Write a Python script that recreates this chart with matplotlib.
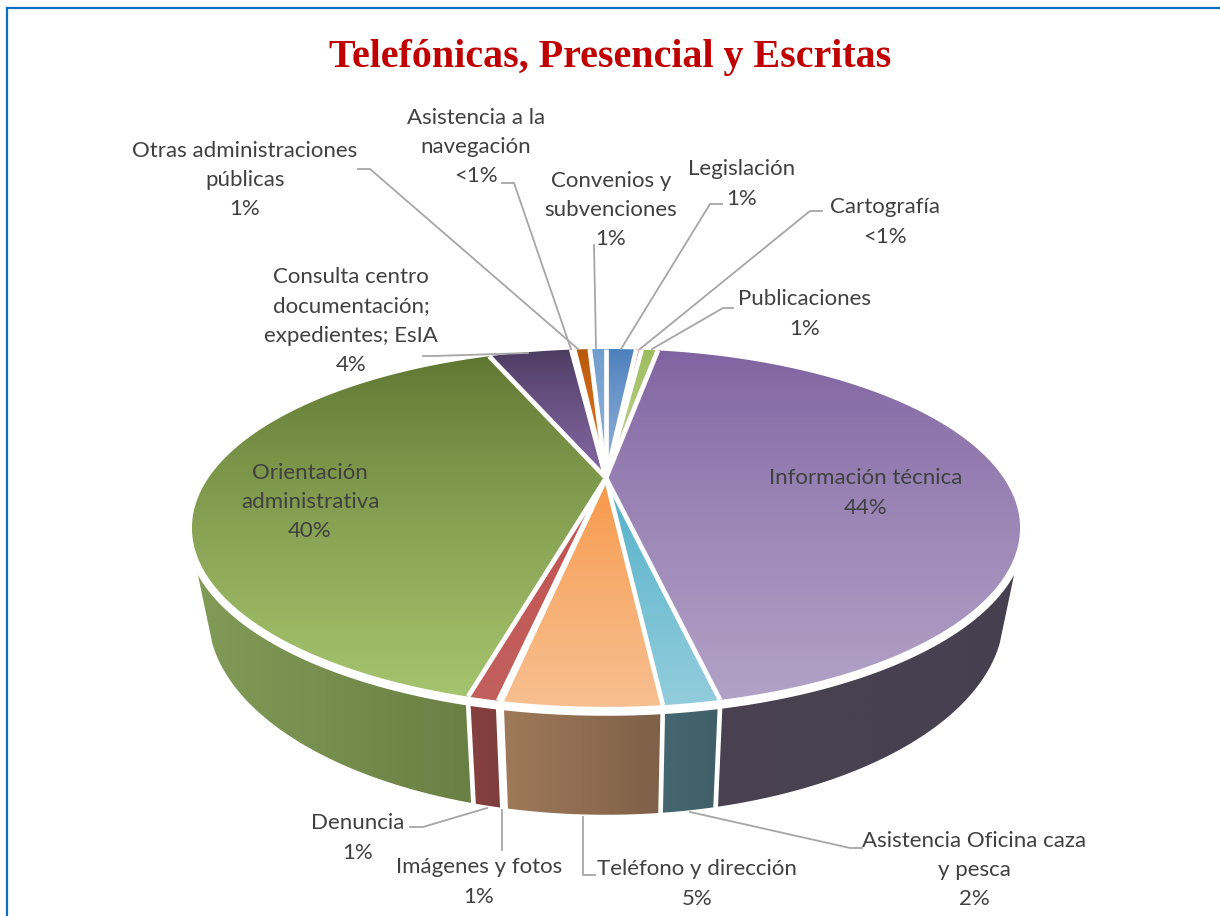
import numpy as np
import matplotlib
matplotlib.use("Agg")
import matplotlib.pyplot as plt
from matplotlib.patches import Polygon
from matplotlib.colors import to_rgb

# ---------- data ----------
categories = ["Legislación", "Cartografía", "Publicaciones", "Información técnica",
              "Asistencia Oficina caza y pesca", "Teléfono y dirección", "Imágenes y fotos",
              "Denuncia", "Orientación administrativa", "Consulta centro documentación; expedientes; EsIA",
              "Asistencia a la navegación", "Otras administraciones públicas", "Convenios y subvenciones"]
values = [1.55, 0.28, 0.83, 44.0, 1.7, 4.7, 0.1, 0.92, 39.9, 4.25, 0.15, 0.8, 0.83]
pct_labels = ["1%", "<1%", "1%", "44%", "2%", "5%", "1%", "1%", "40%", "4%", "<1%", "1%", "1%"]
top_dark = ["#4A7DBA", "#C0504D", "#9BBB59", "#7F62A0", "#4BACC6", "#F79646", "#C0504D",
            "#C0504D", "#5E7530", "#4B3A60", "#F79646", "#B65708", "#6F9BCE"]
top_light = ["#92B4DC", "#D99694", "#C3D69B", "#B2A2C7", "#92CDDC", "#F8BF90", "#C0605F",
             "#C2605E", "#A6C46E", "#8468A3", "#F8BF90", "#E8792A", "#95B3D7"]
wall_left = ["#4A6FA0", "#87403F", "#6F8A45", "#4A4250", "#456770", "#A07A5A", "#87403F",
             "#87403F", "#829C58", "#4A4250", "#A07A5A", "#A07A5A", "#4A6FA0"]
wall_right = ["#3F5F88", "#7E3D3D", "#6F8A45", "#454050", "#3F5F68", "#7E6047", "#7E3D3D",
              "#7E3D3D", "#6A7F44", "#4A4250", "#7E6047", "#7E6047", "#3F5F88"]

# label: text lines, centre x, centre y
label_text = {
    "Legislación": ("Legislación", 742, 184),
    "Cartografía": ("Cartografía", 885, 222),
    "Publicaciones": ("Publicaciones", 805, 314),
    "Información técnica": ("Información técnica", 866, 493),
    "Asistencia Oficina caza y pesca": ("Asistencia Oficina caza\ny pesca", 974, 870),
    "Teléfono y dirección": ("Teléfono y dirección", 697, 884),
    "Imágenes y fotos": ("Imágenes y fotos", 479, 882),
    "Denuncia": ("Denuncia", 358, 838),
    "Orientación administrativa": ("Orientación\nadministrativa", 310, 502),
    "Consulta centro documentación; expedientes; EsIA": ("Consulta centro\ndocumentación;\nexpedientes; EsIA", 351, 321),
    "Asistencia a la navegación": ("Asistencia a la\nnavegación", 476, 147),
    "Otras administraciones públicas": ("Otras administraciones\npúblicas", 245, 180),
    "Convenios y subvenciones": ("Convenios y\nsubvenciones", 611, 210),
}
leaders = [
    [(358, 169), (370, 169), (578, 349)],
    [(502, 183), (514, 183), (571, 349)],
    [(594, 245), (596, 348)],
    [(722, 204), (710, 204), (621, 349)],
    [(822, 211), (810, 211), (640, 349)],
    [(733, 308), (723, 308), (652, 349)],
    [(423, 356), (434, 356), (528, 353)],
    [(410, 827), (423, 827), (487, 808)],
    [(502, 850), (502, 810)],
    [(595, 875), (583, 875), (583, 817)],
    [(862, 848), (850, 848), (690, 812)],
]

K = 0.279


def project(theta_deg, a, b, hub_y, cx=606.0):
    t = np.radians(theta_deg)
    x, y = np.sin(t), np.cos(t)
    w = 1 + K * y
    return cx + a * x / w, hub_y - b * y / w


def top_pt(t):
    return project(t, 397.6, 165.0, 478.0)


def rim_pt(t):
    return project(t, 402.4, 169.2, 480.3)


def base_pt(t):
    return project(t, 382.0, 184.4, 559.0)


def blend(c1, c2, f):
    c1, c2 = np.array(to_rgb(c1)), np.array(to_rgb(c2))
    return c1 + (c2 - c1) * f


fig = plt.figure(figsize=(12.2, 9.16), dpi=100, facecolor="white")
ax = fig.add_axes([0, 0, 1, 1])
ax.set_axis_off()


def gradient_fill(verts, c1, c2, horizontal, zorder, power=1.0):
    verts = np.asarray(verts)
    x0, y0 = verts.min(axis=0)
    x1, y1 = verts.max(axis=0)
    f = np.linspace(0, 1, 256) ** power
    col = np.array([blend(c1, c2, v) for v in f])
    img = col[None, :, :] if horizontal else col[:, None, :]
    im = ax.imshow(img, extent=(x0, x1, y1, y0), origin="upper", aspect="auto",
                   zorder=zorder, interpolation="bilinear")
    clip = Polygon(verts, closed=True, transform=ax.transData)
    im.set_clip_path(clip)


frac = np.array(values) / sum(values) * 360
edges = np.concatenate([[0], np.cumsum(frac)])
RIM_L, RIM_R = 104.0, 256.0
BASE_L, BASE_R = 114.0, 246.0

# side walls
for i in range(len(values)):
    r0, r1 = max(edges[i], RIM_L), min(edges[i + 1], RIM_R)
    b0, b1 = max(edges[i], BASE_L), min(edges[i + 1], BASE_R)
    if r1 <= r0 or b1 <= b0:
        continue
    tx, ty = rim_pt(np.linspace(r0, r1, 80))
    bx, by = base_pt(np.linspace(b0, b1, 80))
    verts = np.vstack([np.c_[tx, ty], np.c_[bx, by][::-1]])
    gradient_fill(verts, wall_left[i], wall_right[i], True, 2)
for a in edges:
    if BASE_L < a < BASE_R:
        tx, ty = top_pt(a)
        bx, by = base_pt(a)
        ax.plot([tx, bx], [ty + 6, by + 1], color="white", lw=3.4, zorder=3, solid_capstyle="butt")

# white ring between the disc and the walls
ts = np.linspace(0, 360, 361)
rx, ry = rim_pt(ts)
ax.add_patch(Polygon(np.c_[rx, ry], closed=True, fc="white", ec="white", lw=1.2, zorder=3.5))

# top surface
for i in range(len(values)):
    ts = np.linspace(edges[i], edges[i + 1], max(4, int(frac[i] * 2)))
    tx, ty = top_pt(ts)
    verts = np.vstack([[606.0, 478.0], np.c_[tx, ty]])
    gradient_fill(verts, top_dark[i], top_light[i], False, 4, power=0.8)
for a in edges[:-1]:
    tx, ty = top_pt(a)
    ax.plot([606.0, tx], [478.0, ty], color="white", lw=3.4, zorder=5, solid_capstyle="butt")

# leader lines
for pts in leaders:
    p = np.array(pts)
    ax.plot(p[:, 0], p[:, 1], color="#A6A6A6", lw=1.3, zorder=6)

# labels
for name, pct in zip(categories, pct_labels):
    txt, x, y = label_text[name]
    ax.text(x, y, txt + "\n" + pct, ha="center", va="center", fontsize=16,
            family="Lato", color="#404040", linespacing=1.57, zorder=7)

ax.text(610, 57, "Telefónicas, Presencial y Escritas", ha="center", va="center",
        fontsize=28.8, family="Liberation Serif", fontweight="bold", color="#C00000", zorder=7)

# chart frame
ax.plot([7, 7], [916, 8], color="#0F6FC6", lw=1.6, zorder=8)
ax.plot([7, 1220], [8, 8], color="#0F6FC6", lw=1.6, zorder=8)

ax.set_xlim(0, 1220)
ax.set_ylim(916, 0)
fig.savefig("out.png", dpi=100, facecolor="white")
